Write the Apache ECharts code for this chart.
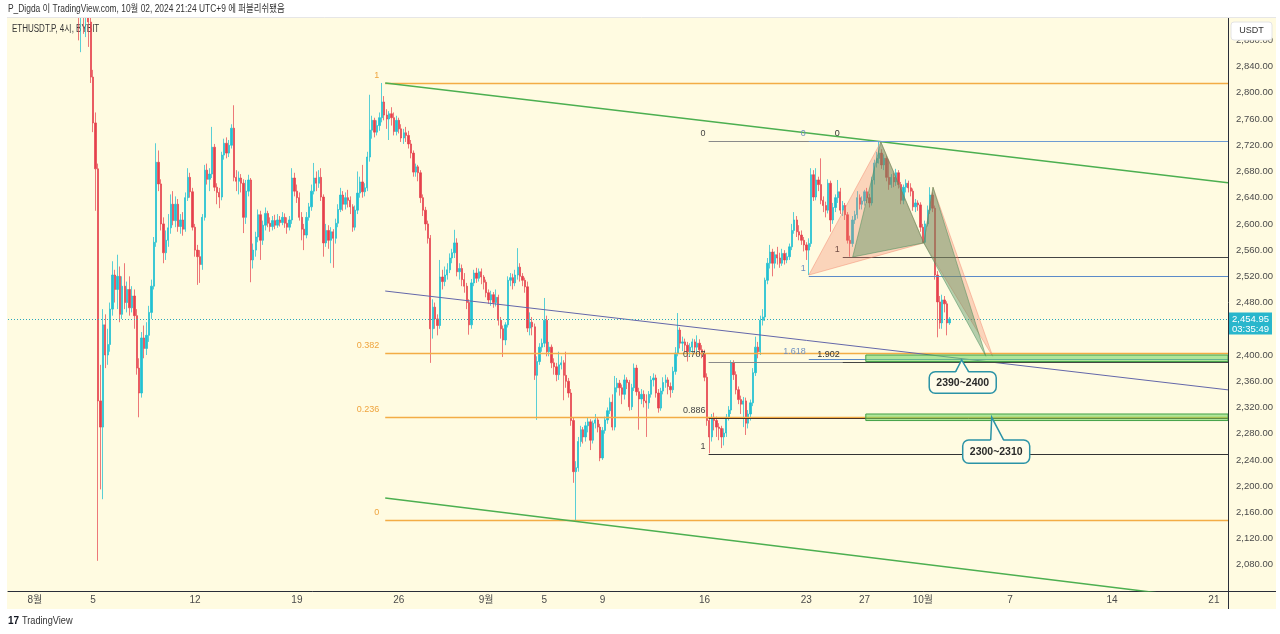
<!DOCTYPE html>
<html><head><meta charset="utf-8">
<script src="https://cdn.jsdelivr.net/npm/echarts@6/dist/echarts.min.js"></script>
<style>html,body{margin:0;padding:0;background:#fff;}#c{width:1280px;height:634px;}</style>
</head><body><div id="c"></div>
<script>
// ---------- DATA ----------
// 4h bars, bar 0 = 8월 1일 01:00 (UTC+9); rows are [open, close, low, high]
const firstBar = -11;
const candles = [
[3320,3300,3280,3340],[3300,3280,3262,3318],[3280,3308,3270,3330],[3308,3288,3270,3320],[3288,3250,3232,3298],
[3250,3268,3240,3290],[3268,3230,3212,3280],[3230,3242,3210,3260],[3242,3220,3200,3252],[3220,3236,3210,3250],
[3236,3210,3190,3245],
[3210,3180,3160,3225],[3180,3200,3170,3215],[3200,3168,3150,3210],[3168,3130,3110,3190],[3130,3150,3120,3170],
[3150,3100,3080,3160],[3100,3050,3020,3110],[3050,2990,2960,3060],[2990,3010,2970,3030],[3010,2980,2960,3020],
[2980,3000,2965,3015],[3000,2975,2950,3010],[2975,2990,2955,3005],[2990,2965,2945,3000],[2965,2980,2950,2995],
[2980,2960,2935,2990],[2960,2975,2940,2990],[2975,2950,2925,2985],[2950,2928,2880,2965],[2928,2942,2862,2950],
[2942,2915,2890,2955],[2915,2932,2885,2945],[2932,2908,2870,2940],[2908,2824,2815,2915],[2824,2754,2740,2835],
[2754,2684,2620,2770],[2684,2330,2086,2692],[2330,2290,2195,2385],[2290,2446,2180,2470],[2446,2400,2380,2462],
[2400,2416,2385,2440],[2416,2470,2405,2480],[2470,2522,2460,2543],[2522,2500,2480,2530],[2500,2520,2470,2553],
[2520,2462,2450,2535],[2462,2505,2455,2520],[2505,2480,2470,2540],[2480,2500,2465,2512],[2500,2472,2460,2520],
[2472,2490,2465,2505],[2490,2460,2440,2500],[2460,2380,2370,2470],[2380,2342,2305,2395],[2342,2426,2335,2435],
[2426,2410,2395,2445],[2410,2430,2400,2450],[2430,2465,2420,2475],[2465,2505,2455,2515],[2505,2572,2500,2580],
[2572,2694,2565,2723],[2694,2661,2650,2712],[2661,2600,2590,2668],[2600,2556,2540,2610],[2556,2575,2545,2590],
[2575,2594,2565,2615],[2594,2630,2585,2645],[2630,2605,2598,2650],[2605,2630,2595,2642],[2630,2596,2588,2638],
[2596,2606,2585,2615],[2606,2592,2582,2618],[2592,2640,2588,2648],[2640,2671,2635,2685],[2671,2649,2640,2678],
[2649,2595,2590,2655],[2595,2560,2550,2600],[2560,2550,2507,2568],[2550,2538,2510,2560],[2538,2610,2530,2615],
[2610,2682,2605,2690],[2682,2668,2660,2692],[2668,2676,2650,2685],[2676,2717,2670,2748],[2717,2656,2650,2722],
[2656,2648,2630,2662],[2648,2641,2624,2655],[2641,2705,2636,2710],[2705,2723,2698,2730],[2723,2708,2700,2732],
[2708,2720,2702,2728],[2720,2746,2715,2752],[2746,2671,2665,2781],[2671,2665,2650,2682],[2665,2670,2645,2680],
[2670,2662,2648,2676],[2662,2610,2586,2668],[2610,2650,2600,2667],[2650,2667,2642,2675],[2667,2545,2511,2670],
[2545,2560,2532,2570],[2560,2580,2550,2588],[2580,2614,2572,2622],[2614,2575,2545,2620],[2575,2598,2568,2605],
[2598,2616,2590,2625],[2616,2601,2595,2620],[2601,2596,2588,2610],[2596,2605,2590,2612],[2605,2598,2592,2614],
[2598,2606,2594,2615],[2606,2602,2596,2612],[2602,2610,2598,2618],[2610,2601,2594,2616],[2601,2595,2585,2610],
[2595,2606,2590,2612],[2606,2670,2600,2685],[2670,2650,2642,2678],[2650,2640,2632,2660],[2640,2610,2605,2648],
[2610,2592,2575,2618],[2592,2583,2560,2600],[2583,2610,2578,2618],[2610,2626,2605,2632],[2626,2650,2620,2660],
[2650,2670,2645,2693],[2670,2662,2650,2680],[2662,2671,2655,2682],[2671,2641,2635,2685],[2641,2571,2550,2645],
[2571,2590,2565,2600],[2590,2575,2562,2598],[2575,2588,2540,2595],[2588,2578,2533,2592],[2578,2601,2570,2608],
[2601,2622,2595,2630],[2622,2644,2618,2655],[2644,2630,2620,2650],[2630,2640,2622,2648],[2640,2636,2625,2652],
[2636,2626,2615,2642],[2626,2595,2588,2630],[2595,2621,2590,2628],[2621,2647,2615,2680],[2647,2664,2640,2672],
[2664,2649,2640,2690],[2649,2655,2642,2662],[2655,2702,2650,2710],[2702,2743,2695,2797],[2743,2758,2730,2765],
[2758,2740,2732,2762],[2740,2750,2735,2758],[2750,2762,2742,2770],[2762,2786,2755,2815],[2786,2766,2758,2795],
[2766,2760,2745,2775],[2760,2768,2728,2772],[2768,2762,2750,2778],[2762,2741,2735,2770],[2741,2758,2735,2765],
[2758,2745,2738,2762],[2745,2731,2725,2752],[2731,2739,2722,2745],[2739,2735,2725,2748],[2735,2722,2715,2742],
[2722,2708,2700,2728],[2708,2679,2672,2712],[2679,2687,2672,2692],[2687,2678,2665,2690],[2678,2640,2632,2682],
[2640,2621,2612,2645],[2621,2600,2590,2626],[2600,2578,2570,2605],[2578,2440,2388,2583],[2440,2473,2425,2485],
[2473,2455,2440,2480],[2455,2445,2430,2462],[2445,2519,2440,2545],[2519,2512,2500,2530],[2512,2522,2505,2535],
[2522,2530,2515,2540],[2530,2548,2525,2555],[2548,2556,2540,2562],[2556,2571,2548,2591],[2571,2527,2520,2578],
[2527,2532,2515,2540],[2532,2515,2505,2538],[2515,2505,2495,2525],[2505,2480,2470,2510],[2480,2446,2431,2485],
[2446,2510,2440,2516],[2510,2525,2505,2530],[2525,2517,2510,2533],[2517,2527,2512,2532],[2527,2519,2508,2532],
[2519,2511,2500,2522],[2511,2495,2488,2515],[2495,2484,2478,2500],[2484,2492,2475,2498],[2492,2480,2472,2496],
[2480,2488,2474,2500],[2488,2453,2445,2492],[2453,2440,2425,2458],[2440,2423,2397,2445],[2423,2446,2415,2450],
[2446,2514,2442,2520],[2514,2518,2505,2525],[2518,2510,2500,2524],[2510,2522,2505,2530],[2522,2534,2515,2563],
[2534,2520,2512,2540],[2520,2514,2505,2525],[2514,2504,2495,2518],[2504,2441,2435,2512],[2441,2450,2430,2465],
[2450,2443,2430,2458],[2443,2369,2362,2448],[2369,2390,2301,2398],[2390,2412,2385,2418],[2412,2418,2405,2425],
[2418,2453,2412,2487],[2453,2405,2398,2460],[2405,2412,2398,2420],[2412,2388,2380,2416],[2388,2382,2370,2395],
[2382,2370,2360,2388],[2370,2385,2362,2405],[2385,2388,2378,2398],[2388,2369,2331,2392],[2369,2360,2350,2405],
[2360,2342,2335,2365],[2342,2300,2292,2348],[2300,2222,2205,2305],[2222,2228,2148,2238],[2228,2268,2222,2275],
[2268,2286,2260,2292],[2286,2275,2265,2290],[2275,2292,2268,2298],[2292,2298,2282,2305],[2298,2270,2255,2302],
[2270,2296,2265,2300],[2296,2301,2288,2310],[2301,2290,2282,2305],[2290,2243,2238,2295],[2243,2285,2240,2290],
[2285,2301,2280,2306],[2301,2315,2295,2320],[2315,2328,2310,2335],[2328,2290,2285,2340],[2290,2350,2285,2368],
[2350,2357,2343,2365],[2357,2350,2338,2362],[2350,2340,2325,2355],[2340,2362,2332,2370],[2362,2358,2348,2366],
[2358,2321,2315,2362],[2321,2350,2316,2356],[2350,2380,2345,2387],[2380,2344,2338,2385],[2344,2333,2286,2350],
[2333,2340,2325,2348],[2340,2330,2320,2346],[2330,2327,2275,2340],[2327,2340,2318,2345],[2340,2362,2335,2368],
[2362,2365,2352,2372],[2365,2342,2335,2370],[2342,2319,2312,2348],[2319,2345,2315,2350],[2345,2358,2340,2366],
[2358,2362,2350,2370],[2362,2352,2340,2366],[2352,2347,2335,2358],[2347,2375,2342,2382],[2375,2403,2370,2412],
[2403,2438,2398,2464],[2438,2418,2410,2442],[2418,2420,2406,2428],[2420,2415,2405,2425],[2415,2405,2390,2420],
[2405,2412,2398,2418],[2412,2420,2402,2425],[2420,2412,2405,2424],[2412,2418,2405,2430],[2418,2408,2400,2424],
[2408,2402,2395,2415],[2402,2366,2360,2408],[2366,2300,2292,2372],[2300,2275,2250,2305],[2275,2305,2268,2310],
[2305,2300,2285,2312],[2300,2290,2275,2306],[2290,2288,2270,2296],[2288,2275,2258,2292],[2275,2281,2262,2288],
[2281,2305,2275,2310],[2305,2316,2300,2322],[2316,2388,2310,2392],[2388,2370,2362,2392],[2370,2347,2340,2375],
[2347,2332,2325,2352],[2332,2325,2310,2338],[2325,2330,2290,2336],[2330,2296,2278,2335],[2296,2310,2288,2316],
[2310,2327,2300,2332],[2327,2373,2322,2380],[2373,2412,2368,2428],[2412,2405,2395,2420],[2405,2453,2400,2460],
[2453,2458,2445,2470],[2458,2514,2452,2518],[2514,2540,2508,2548],[2540,2557,2532,2568],[2557,2540,2520,2562],
[2540,2553,2532,2558],[2553,2548,2538,2565],[2548,2540,2533,2556],[2540,2555,2536,2562],[2555,2545,2538,2560],
[2545,2550,2540,2556],[2550,2565,2545,2570],[2565,2590,2560,2600],[2590,2606,2585,2618],[2606,2588,2580,2612],
[2588,2583,2575,2598],[2583,2575,2568,2590],[2575,2568,2558,2580],[2568,2560,2545,2572],[2560,2570,2522,2578],
[2570,2675,2565,2685],[2675,2641,2635,2682],[2641,2667,2636,2685],[2667,2660,2650,2672],[2660,2636,2630,2700],
[2636,2628,2618,2642],[2628,2621,2610,2634],[2621,2662,2616,2668],[2662,2606,2588,2666],[2606,2625,2600,2632],
[2625,2640,2618,2645],[2640,2649,2632,2667],[2649,2621,2615,2655],[2621,2628,2612,2635],[2628,2614,2606,2632],
[2614,2575,2570,2618],[2575,2570,2550,2582],[2570,2606,2565,2612],[2606,2614,2600,2620],[2614,2640,2608,2650],
[2640,2630,2622,2645],[2630,2635,2622,2642],[2635,2649,2628,2652],[2649,2640,2632,2655],[2640,2632,2625,2646],
[2632,2667,2628,2672],[2667,2693,2660,2698],[2693,2700,2686,2710],[2700,2708,2692,2725],[2708,2690,2684,2714],
[2690,2700,2682,2706],[2700,2671,2665,2704],[2671,2660,2652,2698],[2660,2671,2655,2676],[2671,2664,2656,2678],
[2664,2678,2658,2684],[2678,2660,2654,2682],[2660,2636,2630,2664],[2636,2656,2630,2660],[2656,2662,2648,2668],
[2662,2655,2648,2666],[2655,2650,2642,2662],[2650,2626,2620,2654],[2626,2632,2618,2638],[2632,2629,2620,2636],
[2629,2595,2588,2633],[2595,2572,2571,2600],[2572,2600,2570,2605],[2600,2621,2596,2628],[2621,2644,2615,2656],
[2644,2624,2618,2648],[2624,2522,2515,2628],[2522,2481,2427,2528],[2481,2449,2440,2490],[2449,2484,2440,2492],
[2484,2478,2465,2490],[2478,2449,2430,2482],[2449,2454.95,2446,2458]
];
const dateTickBars = [0,24,66,108,150,186,210,234,276,318,342,366,402,444,486];
const dateTickLabels = ['8월','5','12','19','26','9월','5','9','16','23','27','10월','7','14','21'];
const lastPrice = 2454.95;
const countdown = '03:35:49';
// Fibonacci retracement (high 8/24 -> low 9/6)
const fibStartBar = 144.4;
const fibLabels = ['1','0.382','0.236','0'];
const fibPrices = [2815, 2402.8, 2305.4, 2148];
// trend lines [bar, price]
const channelTop = [[144.4, 2815],[491.8, 2662.6]];
const channelBottom = [[144.4, 2181.8],[491.8, 2024.0]];
const trendLine = [[144.4, 2497.6],[491.8, 2346.8]];
// pattern level tools
const retraceStartBar = 277.7;
const retraceLabels = ['0','0.707','0.886','1'];
const retracePrices = [2726.5, 2389.0, 2303.4, 2249.0];
const blueStartBar = 319.0;
const blueLabels = ['0','1','1.618'];
const bluePrices = [2726.5, 2520.5, 2393.2];
const blackStartBar = 333.0;
const blackLabels = ['0','1','1.902'];
const blackPrices = [2726.5, 2549.5, 2389.8];
// XABCD patterns (X, A, B, C, D)
const pinkPattern  = [[319.0,2522],[348.7,2725],[366.4,2571],[370.2,2656],[394.8,2398]];
const greenPattern = [[337.1,2549.5],[348.7,2725],[366.4,2571],[370.2,2656],[392.0,2398]];
// target zones
const zoneStartBar = 342.5;
const zoneRanges = [[2390,2400],[2300,2310]];
const zoneTexts = ['2390~2400','2300~2310'];
const zoneTips = [[382.0,2392.4],[394.4,2304.9]];

// ---------- CHART ----------
const FONT = '"Liberation Sans", "Noto Sans CJK KR", sans-serif';
const xMin = -11.09, xMax = 491.8;
const candleData = candles.map((r, i) => [firstBar + i, r[0], r[1], r[2], r[3]]);
const fmtPrice = v => v.toLocaleString('en-US', {minimumFractionDigits: 2, maximumFractionDigits: 2});

function levelSeries(startBar, prices, labels, lineColors, labelColor, labelDx, z, width) {
  return {
    type: 'custom', z, silent: true, clip: true,
    data: prices.map((p, i) => [startBar, p, i]),
    renderItem(params, api) {
      const i = api.value(2);
      const pt = api.coord([api.value(0), api.value(1)]);
      const right = params.coordSys.x + params.coordSys.width;
      const y = Math.round(pt[1]) + 0.5;
      return { type: 'group', children: [
        { type: 'line', shape: { x1: pt[0], y1: y, x2: right, y2: y }, style: { stroke: lineColors[i], lineWidth: width || 1 } },
        { type: 'text', x: pt[0] + labelDx, y: y - 8, style: { text: labels[i], fill: labelColor, font: '9px ' + FONT, align: 'right', verticalAlign: 'middle' } }
      ]};
    }
  };
}
function patternSeries(pts, fill, stroke, z) {
  const tris = [[0,1,2],[2,3,4]];
  return {
    type: 'custom', z, silent: true, clip: true,
    data: tris.map(t => [pts[t[0]][0], pts[t[0]][1], pts[t[1]][0], pts[t[1]][1], pts[t[2]][0], pts[t[2]][1]]),
    renderItem(params, api) {
      const p = [0,1,2].map(k => api.coord([api.value(2*k), api.value(2*k+1)]));
      return { type: 'polygon', shape: { points: p }, style: { fill, stroke, lineWidth: 1 } };
    }
  };
}
function lineSeries(pts, color, width, z) {
  return { type: 'line', data: pts, z, silent: true, symbol: 'none', clip: true,
    lineStyle: { color, width }, animation: false };
}
const calloutBox = [
  { dx: -32.4, dy: 11.7, w: 67, h: 21.6, b1: -6, b2: 7 },
  { dx: -29, dy: 22.7, w: 67, h: 23.3, b1: -1, b2: 12 }
];

const chart = echarts.init(document.getElementById('c'), null, { renderer: 'canvas' });
chart.setOption({
  animation: false,
  backgroundColor: '#ffffff',
  grid: { left: 8, right: 52, top: 14.14, bottom: 43.02, outerBoundsMode: 'none', containLabel: false },
  xAxis: {
    type: 'value', min: xMin, max: xMax,
    axisLine: { show: true, onZero: false, lineStyle: { color: '#2a2e39', width: 1 } },
    axisTick: { show: false }, splitLine: { show: false },
    axisLabel: {
      customValues: dateTickBars,
      formatter: v => { const k = dateTickBars.indexOf(Math.round(v)); return k >= 0 ? dateTickLabels[k] : ''; },
      color: '#4a4a4a', fontSize: 10, margin: 4, fontFamily: FONT
    }
  },
  yAxis: {
    type: 'value', position: 'right', min: 2040, max: 2920, interval: 40,
    axisLine: { show: true, onZero: false, lineStyle: { color: '#2a2e39', width: 1 } },
    axisTick: { show: false }, splitLine: { show: false },
    axisLabel: { formatter: v => (v < 2060 || v > 2900 || Math.abs(v - lastPrice) < 20) ? '' : fmtPrice(v), color: '#4a4a4a', fontSize: 9.5, margin: 8, fontFamily: FONT }
  },
  graphic: { elements: [
    { type: 'rect', z: -10, silent: true, shape: { x: 7, y: 17, width: 1269, height: 592 }, style: { fill: '#FFFBE1' } },
    { type: 'text', z: 1, silent: true, x: 12, y: 29, scaleX: 0.8, originX: 0, style: { text: 'ETHUSDT.P, 4시, BYBIT', fill: '#333', font: '10px ' + FONT, verticalAlign: 'middle' } },
    { type: 'rect', z: 100, silent: true, shape: { x: 0, y: 0, width: 1280, height: 17 }, style: { fill: '#ffffff' } },
    { type: 'line', z: 100, silent: true, shape: { x1: 7, y1: 17.5, x2: 1276, y2: 17.5 }, style: { stroke: '#e6e6e6', lineWidth: 1 } },
    { type: 'text', z: 101, silent: true, x: 8, y: 9, scaleX: 0.84, originX: 0, style: { text: 'P_Digda 이 TradingView.com, 10월 02, 2024 21:24 UTC+9 에 퍼블리쉬됐음', fill: '#333', font: '10px ' + FONT, verticalAlign: 'middle' } },
    { type: 'rect', z: 100, silent: true, shape: { x: 1231, y: 22, width: 41, height: 18, r: 3 }, style: { fill: '#ffffff', stroke: '#e4e4e4', lineWidth: 1 } },
    { type: 'text', z: 101, silent: true, x: 1251.5, y: 31, style: { text: 'USDT', fill: '#333', font: '9px ' + FONT, align: 'center', verticalAlign: 'middle' } },
    { type: 'line', z: 5, silent: true, shape: { x1: 1228.5, y1: 591, x2: 1228.5, y2: 609 }, style: { stroke: '#2a2e39', lineWidth: 1 } },
    { type: 'line', z: 5, silent: true, shape: { x1: 1228, y1: 591.5, x2: 1276, y2: 591.5 }, style: { stroke: '#2a2e39', lineWidth: 1 } },
    { type: 'text', z: 101, silent: true, x: 8, y: 621, style: { text: '17', fill: '#131722', font: 'bold 10px ' + FONT, verticalAlign: 'middle' } },
    { type: 'text', z: 101, silent: true, x: 22, y: 621, scaleX: 0.92, originX: 0, style: { text: 'TradingView', fill: '#333', font: '10px ' + FONT, verticalAlign: 'middle' } }
  ]},
  series: [
    {
      type: 'candlestick', z: 2, data: candleData, barWidth: 1.8, clip: true,
      itemStyle: { color: '#22C0D2', color0: '#E5404C', borderColor: 'rgba(34,192,210,0.75)', borderColor0: 'rgba(229,64,76,0.7)', borderWidth: 1 },
      markLine: {
        silent: true, symbol: ['none', 'none'], animation: false,
        data: [{ yAxis: lastPrice }],
        lineStyle: { color: '#2AA7BB', width: 1, type: [1, 2] },
        label: { show: false }
      }
    },
    levelSeries(fibStartBar, fibPrices, fibLabels, fibPrices.map(() => '#F3AC45'), '#EFA43E', -6, 3, 1.4),
    lineSeries(channelTop, '#4CAF50', 1.5, 3),
    lineSeries(channelBottom, '#4CAF50', 1.5, 3),
    lineSeries(trendLine, '#6467AA', 1, 3),
    levelSeries(retraceStartBar, retracePrices, retraceLabels, ['#8a8a8a','#8a8a8a','#4e3424','#333333'], '#444444', -3, 4),
    levelSeries(blackStartBar, blackPrices, blackLabels, ['#555555','#444444','#444444'], '#333333', -3, 4),
    levelSeries(blueStartBar, bluePrices, blueLabels, ['#6E9BD3','#5B8AC8','#5B8AC8'], '#6f8fbf', -3, 4),
    patternSeries(pinkPattern, 'rgba(242,130,105,0.32)', 'rgba(242,130,105,0.45)', 5),
    patternSeries(greenPattern, 'rgba(70,140,90,0.40)', 'rgba(70,140,90,0.5)', 5),
    {
      type: 'custom', z: 6, silent: true, clip: true,
      data: zoneRanges.map(r => [zoneStartBar, r[0], r[1]]),
      renderItem(params, api) {
        const a = api.coord([api.value(0), api.value(2)]);
        const b = api.coord([api.value(0), api.value(1)]);
        const right = params.coordSys.x + params.coordSys.width;
        return { type: 'rect', shape: { x: a[0], y: a[1], width: right - a[0], height: b[1] - a[1] },
          style: { fill: 'rgba(110,214,96,0.55)', stroke: '#43A047', lineWidth: 1 } };
      }
    },
    {
      type: 'custom', z: 7, silent: true, clip: false,
      data: zoneTips.map((t, i) => [t[0], t[1], i]),
      renderItem(params, api) {
        const i = api.value(2);
        const tip = api.coord([api.value(0), api.value(1)]);
        const s = calloutBox[i];
        const left = tip[0] + s.dx, top = tip[1] + s.dy;
        const bx1 = tip[0] + s.b1, bx2 = tip[0] + s.b2;
        const stroke = '#2B93A6';
        return { type: 'group', children: [
          { type: 'rect', shape: { x: left, y: top, width: s.w, height: s.h, r: 6 }, style: { fill: '#FFFCEA', stroke, lineWidth: 1.5 } },
          { type: 'polygon', shape: { points: [[bx1, top + 1.2], tip, [bx2, top + 1.2]] }, style: { fill: '#FFFCEA' } },
          { type: 'polyline', shape: { points: [[bx1, top], tip, [bx2, top]] }, style: { stroke, lineWidth: 1.5, fill: null } },
          { type: 'text', x: left + s.w / 2, y: top + s.h / 2 + 0.5, style: { text: zoneTexts[i], fill: '#2b2b2b', font: 'bold 10.5px ' + FONT, align: 'center', verticalAlign: 'middle' } }
        ]};
      }
    },
    {
      // last price label on the price scale
      type: 'custom', z: 20, silent: true, clip: false,
      data: [[xMax, lastPrice]],
      renderItem(params, api) {
        const pt = api.coord([api.value(0), api.value(1)]);
        const x = params.coordSys.x + params.coordSys.width + 1;
        return { type: 'group', children: [
          { type: 'rect', shape: { x, y: pt[1] - 6.5, width: 43, height: 22 }, style: { fill: '#29B6CC' } },
          { type: 'text', x: x + 21.5, y: pt[1], style: { text: fmtPrice(lastPrice), fill: '#ffffff', font: '9.5px ' + FONT, align: 'center', verticalAlign: 'middle' } },
          { type: 'text', x: x + 21.5, y: pt[1] + 10, style: { text: countdown, fill: '#ffffff', font: '9.5px ' + FONT, align: 'center', verticalAlign: 'middle' } }
        ]};
      }
    }
  ]
});
</script></body></html>
